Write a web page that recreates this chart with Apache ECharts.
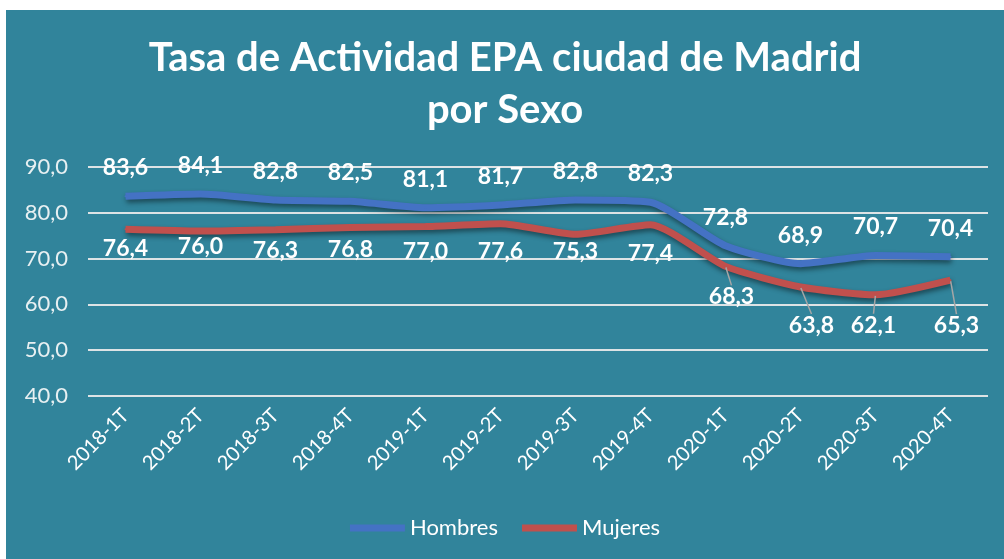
<!DOCTYPE html>
<html>
<head>
<meta charset="utf-8">
<script src="https://cdn.jsdelivr.net/npm/echarts@6/dist/echarts.min.js"></script>
<style>
  html, body { margin: 0; padding: 0; background: #ffffff; }
  #chart { position: absolute; left: 6px; top: 10px; width: 998px; height: 549px; background: #31849b; }
</style>
</head>
<body>
<div id="chart"></div>
<script>
const categories = ['2018-1T', '2018-2T', '2018-3T', '2018-4T', '2019-1T', '2019-2T',
  '2019-3T', '2019-4T', '2020-1T', '2020-2T', '2020-3T', '2020-4T']
const hombres = [83.6, 84.1, 82.8, 82.5, 81.1, 81.7, 82.8, 82.3, 72.8, 68.9, 70.7, 70.4]
const mujeres = [76.4, 76.0, 76.3, 76.8, 77.0, 77.6, 75.3, 77.4, 68.3, 63.8, 62.1, 65.3]
const yTicks = [40, 50, 60, 70, 80, 90]

// small nudges so the women's labels sit where they are in the original
const mujeresDy = [-2, -6, -1, 1, 4, 6, -4, 7, 9, 17, 9, 24]
const mujeresDx = [0, 0, 0, 0, 0, 0, 0, 0, 6, 11, -2, 6]

const fmt = v => v.toFixed(1).replace('.', ',')
const font = 'Lato, "Liberation Sans", sans-serif'

const chart = echarts.init(document.getElementById('chart'))

chart.setOption({
  backgroundColor: '#31849b',
  textStyle: { fontFamily: font },
  title: {
    text: 'Tasa de Actividad EPA ciudad de Madrid\npor Sexo',
    left: 'center',
    top: 22,
    padding: 0,
    textStyle: { color: '#ffffff', fontSize: 40, fontWeight: 'bold', lineHeight: 52, fontFamily: font }
  },
  legend: {
    bottom: 15,
    left: 'center',
    icon: 'rect',
    itemWidth: 55,
    itemHeight: 7,
    itemGap: 24,
    textStyle: { color: '#ffffff', fontSize: 22, fontFamily: font },
    data: ['Hombres', 'Mujeres']
  },
  grid: { left: 82, right: 16, top: 157, bottom: 163, containLabel: false },
  xAxis: {
    type: 'category',
    data: categories,
    boundaryGap: true,
    axisLine: { show: false },
    axisTick: { show: false },
    axisLabel: { color: '#ffffff', fontSize: 20, rotate: 45, margin: 16, interval: 0, fontFamily: font }
  },
  yAxis: {
    type: 'value',
    min: yTicks[0],
    max: yTicks[yTicks.length - 1],
    interval: 10,
    axisLine: { show: false },
    axisTick: { show: false },
    axisLabel: { color: '#e8f0f2', fontSize: 22, margin: 20, formatter: fmt, fontFamily: font },
    splitLine: { lineStyle: { color: '#dde3e5', width: 2 } }
  },
  series: [
    {
      name: 'Hombres',
      type: 'line',
      data: hombres,
      smooth: 0.2,
      symbol: 'circle',
      symbolSize: 2,
      itemStyle: { color: '#4472c4' },
      lineStyle: { width: 7, color: '#4472c4', shadowColor: 'rgba(0,0,0,0.45)', shadowBlur: 5, shadowOffsetY: 3, shadowOffsetX: 1 },
      label: {
        show: true, position: 'top', distance: 16, color: '#ffffff',
        fontSize: 23, fontWeight: 'bold', formatter: p => fmt(p.value), fontFamily: font
      },
      z: 3
    },
    {
      name: 'Mujeres',
      type: 'line',
      data: mujeres.map((v, i) => ({ value: v, labelLine: { show: i >= 8 } })),
      smooth: 0.2,
      symbol: 'circle',
      symbolSize: 2,
      itemStyle: { color: '#c0504d' },
      lineStyle: { width: 7, color: '#c0504d', shadowColor: 'rgba(0,0,0,0.45)', shadowBlur: 5, shadowOffsetY: 3, shadowOffsetX: 1 },
      label: {
        show: true, position: 'bottom', distance: 9, color: '#ffffff',
        fontSize: 23, fontWeight: 'bold', formatter: p => fmt(p.value), fontFamily: font
      },
      labelLine: { show: false, lineStyle: { color: '#a6a6a6', width: 1.5 } },
      labelLayout: p => ({ dx: mujeresDx[p.dataIndex], dy: mujeresDy[p.dataIndex] }),
      z: 2
    }
  ]
})
</script>
</body>
</html>
